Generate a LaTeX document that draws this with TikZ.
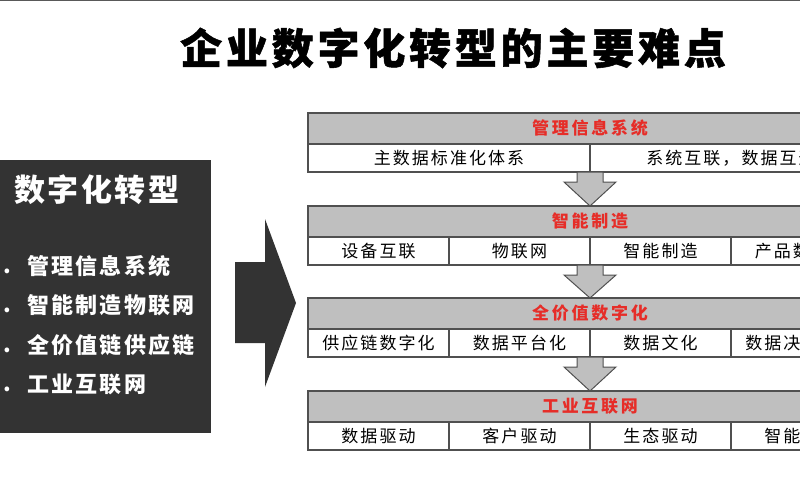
\documentclass[tikz,border=0pt]{standalone}
\usepackage{fontspec}
\setmainfont{Noto Sans CJK SC}
\usetikzlibrary{positioning}
\definecolor{darkbg}{RGB}{51,51,51}
\definecolor{headred}{RGB}{230,45,40}
\definecolor{linegray}{RGB}{80,80,80}
\newcommand\bigtitlefont{\fontsize{42}{48}\selectfont\bfseries\addfontfeatures{LetterSpace=9,FakeBold=1.2}}
\newcommand\darktitlefont{\fontsize{31}{36}\selectfont\bfseries\addfontfeatures{LetterSpace=8}}
\newcommand\itemfont{\fontsize{22}{26}\selectfont\bfseries\addfontfeatures{LetterSpace=10}}
\newcommand\headfont{\fontsize{17}{20}\selectfont\bfseries\addfontfeatures{LetterSpace=16}}
\newcommand\cellfont{\fontsize{17}{20}\selectfont\addfontfeatures{LetterSpace=12}}

\begin{document}
\begin{tikzpicture}[x=1pt,y=-1pt,
head node/.style={draw=linegray,fill=gray!50,line width=1.2pt,minimum width=564pt,minimum height=31pt,inner sep=0pt,outer sep=0pt,text=headred,font=\headfont},
cell node/.style={draw=linegray,fill=white,line width=1.2pt,minimum width=141pt,minimum height=28pt,inner sep=0pt,outer sep=0pt,font=\cellfont},
wide cell/.style={cell node,minimum width=282pt},
item node/.style={text=white,font=\itemfont,anchor=west,inner sep=0pt},
num node/.style={text=white,font=\itemfont,inner sep=0pt},
down arrow/.style={draw=linegray,fill=gray!50,line width=1pt}]
\useasboundingbox (0,0) rectangle (800,500);
\clip (0,0) rectangle (800,500);
\draw[gray!70!black,line width=1.5pt] (0,0.7) -- (800,0.7);

% title
\node[font=\bigtitlefont] (title) at (453,48) {企业数字化转型的主要难点};

% left box
\node[fill=darkbg,minimum width=251pt,minimum height=273pt,inner sep=0pt] (dark) at (85.5,296.5) {};
\node[text=white,font=\darktitlefont,anchor=west,inner sep=0pt] (dtitle) at (14,190) {数字化转型};
\node[item node,label={[num node,label distance=16pt]left:1.}] (i1) at (27,266) {管理信息系统};
\node[item node,label={[num node,label distance=16pt]left:2.}] (i2) at (27,305) {智能制造物联网};
\node[item node,label={[num node,label distance=16pt]left:3.}] (i3) at (27,345) {全价值链供应链};
\node[item node,label={[num node,label distance=16pt]left:4.}] (i4) at (27,384) {工业互联网};

% big arrow
\fill[darkbg] (235,262) -- (265,262) -- (265,219) -- (296,303) -- (265,387) -- (265,343) -- (235,343) -- cycle;

% blocks
\node[head node] (h1) at (590,128.5) {管理信息系统};
\node[wide cell] (c11) [below right=0pt of h1.south west] {主数据标准化体系};
\node[wide cell] (c12) [right=0pt of c11] {系统互联，数据互通};

\node[head node] (h2) at (590,221.5) {智能制造};
\node[cell node] (c21) [below right=0pt of h2.south west] {设备互联};
\node[cell node] (c22) [right=0pt of c21] {物联网};
\node[cell node] (c23) [right=0pt of c22] {智能制造};
\node[cell node] (c24) [right=0pt of c23] {产品数字化};

\node[head node] (h3) at (590,313.5) {全价值数字化};
\node[cell node] (c31) [below right=0pt of h3.south west] {供应链数字化};
\node[cell node] (c32) [right=0pt of c31] {数据平台化};
\node[cell node] (c33) [right=0pt of c32] {数据文化};
\node[cell node] (c34) [right=0pt of c33] {数据决策分析};

\node[head node] (h4) at (590,406.5) {工业互联网};
\node[cell node] (c41) [below right=0pt of h4.south west] {数据驱动};
\node[cell node] (c42) [right=0pt of c41] {客户驱动};
\node[cell node] (c43) [right=0pt of c42] {生态驱动};
\node[cell node] (c44) [right=0pt of c43] {智能驱动};

% down arrows
\draw[down arrow] (h2.north) -- ++(-26,-24) -- ++(13,0) -- ++(0,-10) -- ++(26,0) -- ++(0,10) -- ++(13,0) -- cycle;
\draw[down arrow] (h3.north) -- ++(-26,-23) -- ++(13,0) -- ++(0,-10) -- ++(26,0) -- ++(0,10) -- ++(13,0) -- cycle;
\draw[down arrow] (h4.north) -- ++(-26,-24) -- ++(13,0) -- ++(0,-10) -- ++(26,0) -- ++(0,10) -- ++(13,0) -- cycle;
\end{tikzpicture}
\end{document}
